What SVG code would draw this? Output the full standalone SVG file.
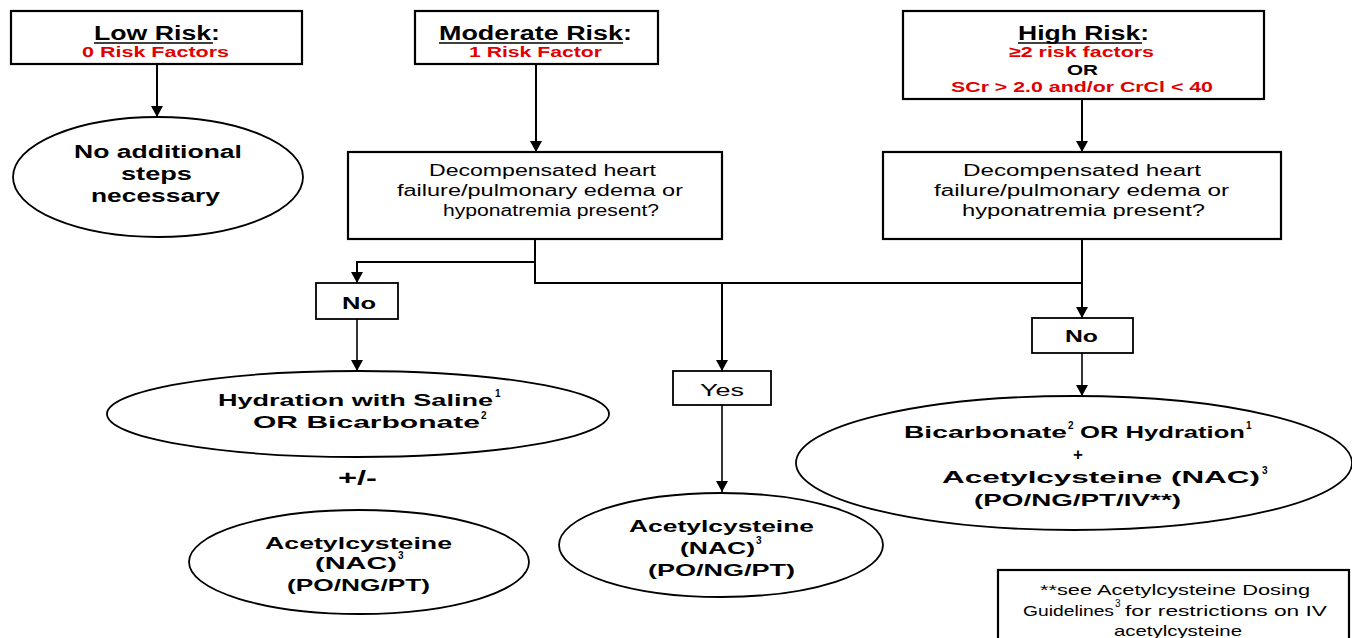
<svg xmlns="http://www.w3.org/2000/svg" width="1352" height="638" viewBox="0 0 1352 638">
<defs>
<marker id="arr" markerUnits="userSpaceOnUse" markerWidth="12" markerHeight="12" refX="11" refY="6" orient="auto">
<path d="M0,0 L11,6 L0,12 z" fill="#000"/>
</marker>
<style>
.box{fill:#fff;stroke:#000;stroke-width:2.2}
.ell{fill:#fff;stroke:#000;stroke-width:1.8}
.t{font-family:"Liberation Sans",Arial,sans-serif;fill:#000}
.b{font-weight:bold}
.title{font-size:20px;font-weight:bold}
.red{font-size:15px;font-weight:bold;fill:#e00000}
.dec{font-size:16px}
.el{font-size:17px;font-weight:bold}
.lab{font-size:17px;font-weight:bold}
.sup{font-size:10px;font-weight:bold}
.fn{font-size:15px}
.ul{stroke:#000;stroke-width:1.6}
.con{fill:none;stroke:#000;stroke-width:2}
.con2{fill:none;stroke:#000;stroke-width:1.6}
</style>
</defs>
<rect width="1352" height="638" fill="#fff"/>

<g id="connectors">
<path class="con" d="M157,64 V117" marker-end="url(#arr)"/>
<path class="con" d="M536,64 V152" marker-end="url(#arr)"/>
<path class="con" d="M1082,99 V152" marker-end="url(#arr)"/>
<path class="con" d="M535,239 V283 H1082"/>
<path class="con" d="M535,262 H357 V283" marker-end="url(#arr)"/>
<path class="con" d="M722,283 V371" marker-end="url(#arr)"/>
<path class="con" d="M1082,239 V318" marker-end="url(#arr)"/>
<path class="con2" d="M357,319 V371" marker-end="url(#arr)"/>
<path class="con2" d="M722,405 V492" marker-end="url(#arr)"/>
<path class="con2" d="M1082,353 V396" marker-end="url(#arr)"/>
</g>

<g id="low-risk">
<rect class="box" x="11" y="11" width="291" height="53"/>
<text class="t title" x="94" y="40" textLength="126" lengthAdjust="spacingAndGlyphs">Low Risk:</text>
<line class="ul" x1="94" y1="43" x2="213" y2="43"/>
<text class="t red" x="82" y="57" textLength="147" lengthAdjust="spacingAndGlyphs">0 Risk Factors</text>
</g>

<g id="moderate-risk">
<rect class="box" x="415" y="11" width="243" height="53"/>
<text class="t title" x="439" y="40" textLength="193" lengthAdjust="spacingAndGlyphs">Moderate Risk:</text>
<line class="ul" x1="439" y1="43" x2="623" y2="43"/>
<text class="t red" x="469" y="57" textLength="133" lengthAdjust="spacingAndGlyphs">1 Risk Factor</text>
</g>

<g id="high-risk">
<rect class="box" x="903" y="11" width="361" height="88"/>
<text class="t title" x="1018" y="40" textLength="131" lengthAdjust="spacingAndGlyphs">High Risk:</text>
<line class="ul" x1="1018" y1="43" x2="1142" y2="43"/>
<text class="t red" x="1009" y="57" textLength="145" lengthAdjust="spacingAndGlyphs">≥2 risk factors</text>
<text class="t red" style="fill:#000" x="1067" y="75" textLength="31" lengthAdjust="spacingAndGlyphs">OR</text>
<text class="t red" x="951" y="92" textLength="262" lengthAdjust="spacingAndGlyphs">SCr &gt; 2.0 and/or CrCl &lt; 40</text>
</g>

<g id="no-additional">
<ellipse class="ell" cx="158" cy="177" rx="145" ry="60"/>
<text class="t el" style="font-size:18px" x="74" y="158" textLength="168" lengthAdjust="spacingAndGlyphs">No additional</text>
<text class="t el" style="font-size:18px" x="121" y="180" textLength="71" lengthAdjust="spacingAndGlyphs">steps</text>
<text class="t el" style="font-size:18px" x="91" y="202" textLength="129" lengthAdjust="spacingAndGlyphs">necessary</text>
</g>

<g id="moderate-decision">
<rect class="box" x="348" y="152" width="374" height="87"/>
<text class="t dec" x="429" y="176" textLength="227" lengthAdjust="spacingAndGlyphs">Decompensated heart</text>
<text class="t dec" x="397" y="196" textLength="286" lengthAdjust="spacingAndGlyphs">failure/pulmonary edema or</text>
<text class="t dec" x="443" y="216" textLength="216" lengthAdjust="spacingAndGlyphs">hyponatremia present?</text>
</g>

<g id="high-decision">
<rect class="box" x="883" y="152" width="398" height="87"/>
<text class="t dec" x="963" y="176" textLength="238" lengthAdjust="spacingAndGlyphs">Decompensated heart</text>
<text class="t dec" x="934" y="196" textLength="295" lengthAdjust="spacingAndGlyphs">failure/pulmonary edema or</text>
<text class="t dec" x="962" y="216" textLength="243" lengthAdjust="spacingAndGlyphs">hyponatremia present?</text>
</g>

<g id="no-left">
<rect class="box" style="stroke-width:1.8" x="316" y="283" width="82" height="36"/>
<text class="t lab" x="342" y="309" textLength="34" lengthAdjust="spacingAndGlyphs">No</text>
</g>

<g id="yes">
<rect class="box" style="stroke-width:1.8" x="673" y="371" width="98" height="34"/>
<text class="t lab" style="font-weight:normal" x="700" y="396" textLength="44" lengthAdjust="spacingAndGlyphs">Yes</text>
</g>

<g id="no-right">
<rect class="box" style="stroke-width:1.8" x="1032" y="318" width="101" height="35"/>
<text class="t lab" x="1065" y="342" textLength="33" lengthAdjust="spacingAndGlyphs">No</text>
</g>

<g id="hydration">
<ellipse class="ell" cx="358" cy="414" rx="251" ry="43"/>
<text class="t el" x="218" y="406" textLength="275" lengthAdjust="spacingAndGlyphs">Hydration with Saline</text>
<text class="t sup" x="495" y="397">1</text>
<text class="t el" x="253" y="428" textLength="227" lengthAdjust="spacingAndGlyphs">OR Bicarbonate</text>
<text class="t sup" x="481" y="419">2</text>
</g>

<g id="plus-minus">
<text class="t b" style="font-size:20px" x="338" y="485" textLength="39" lengthAdjust="spacingAndGlyphs">+/-</text>
</g>

<g id="nac-left">
<ellipse class="ell" cx="359" cy="562" rx="170" ry="52"/>
<text class="t el" x="265" y="549" textLength="187" lengthAdjust="spacingAndGlyphs">Acetylcysteine</text>
<text class="t el" x="315" y="569" textLength="82" lengthAdjust="spacingAndGlyphs">(NAC)</text>
<text class="t sup" x="398" y="559">3</text>
<text class="t el" x="287" y="591" textLength="143" lengthAdjust="spacingAndGlyphs">(PO/NG/PT)</text>
</g>

<g id="nac-middle">
<ellipse class="ell" cx="721" cy="545" rx="162" ry="52"/>
<text class="t el" x="629" y="532" textLength="185" lengthAdjust="spacingAndGlyphs">Acetylcysteine</text>
<text class="t el" x="680" y="554" textLength="75" lengthAdjust="spacingAndGlyphs">(NAC)</text>
<text class="t sup" x="756" y="544">3</text>
<text class="t el" x="648" y="576" textLength="147" lengthAdjust="spacingAndGlyphs">(PO/NG/PT)</text>
</g>

<g id="high-treatment">
<ellipse class="ell" cx="1074" cy="463" rx="278" ry="67"/>
<text class="t el" x="904" y="438" textLength="163" lengthAdjust="spacingAndGlyphs">Bicarbonate</text>
<text class="t sup" x="1068" y="429">2</text>
<text class="t el" x="1080" y="438" textLength="165" lengthAdjust="spacingAndGlyphs">OR Hydration</text>
<text class="t sup" x="1246" y="429">1</text>
<text class="t el" x="1078" y="460" text-anchor="middle">+</text>
<text class="t el" x="942" y="483" textLength="318" lengthAdjust="spacingAndGlyphs">Acetylcysteine (NAC)</text>
<text class="t sup" x="1262" y="474">3</text>
<text class="t el" x="974" y="506" textLength="207" lengthAdjust="spacingAndGlyphs">(PO/NG/PT/IV**)</text>
</g>

<g id="footnote">
<rect class="box" x="998" y="570" width="351" height="80"/>
<text class="t fn" x="1040" y="595" textLength="270" lengthAdjust="spacingAndGlyphs">**see Acetylcysteine Dosing</text>
<text class="t fn" x="1023" y="616" textLength="91" lengthAdjust="spacingAndGlyphs">Guidelines</text>
<text class="t sup" style="font-weight:normal" x="1115" y="607">3</text>
<text class="t fn" x="1125" y="616" textLength="202" lengthAdjust="spacingAndGlyphs">for restrictions on IV</text>
<text class="t fn" x="1114" y="636" textLength="128" lengthAdjust="spacingAndGlyphs">acetylcysteine</text>
</g>
</svg>
